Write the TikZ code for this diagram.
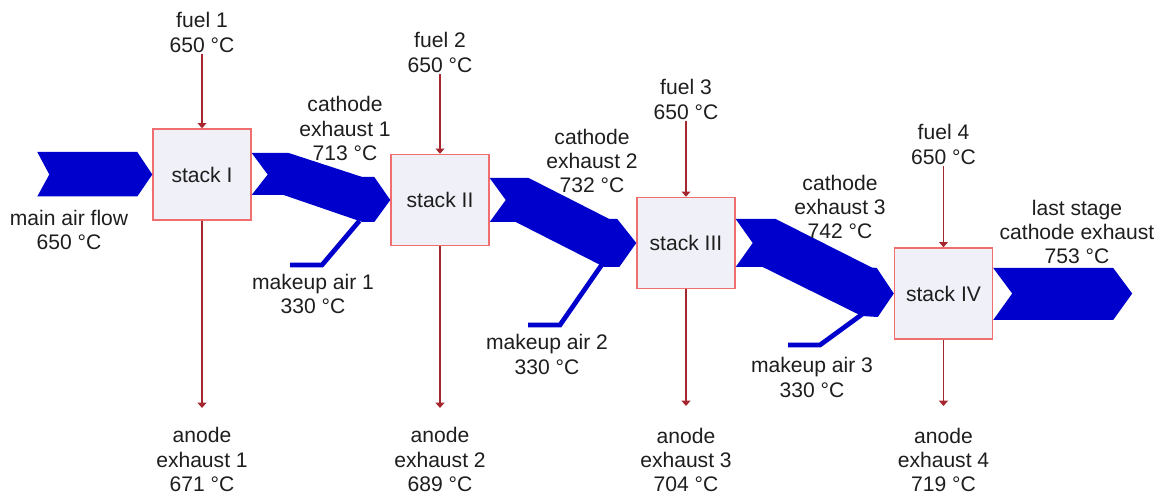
\documentclass[tikz,border=0pt]{standalone}
\usepackage{fontspec}
\setmainfont{Liberation Sans}
\usetikzlibrary{arrows.meta,calc}

\definecolor{flowblue}{RGB}{0,0,204}
\definecolor{fuelred}{RGB}{165,38,45}
\definecolor{stackedge}{RGB}{240,110,110}
\definecolor{stackfill}{RGB}{240,240,248}
\definecolor{labelgray}{RGB}{30,30,30}

\tikzset{
  stackbox/.style={draw=stackedge, fill=stackfill, line width=0.8pt,
    minimum width=1.96cm, minimum height=1.82cm, inner sep=0pt, text=labelgray},
  flowlabel/.style={align=center, inner sep=1pt, text=labelgray},
  airflow/.style={fill=flowblue},
  makeup/.style={draw=flowblue, line width=2.7pt, line join=miter},
  fuelline/.style={draw=fuelred, line width=1.1pt,
    -{Triangle[width=5pt,length=3pt]}},
}

\begin{document}
\begin{tikzpicture}[font=\fontsize{12}{13.8}\selectfont]
  \useasboundingbox (0,0) rectangle (23.26,9.9);

  % --- Stacks ---
  \node[stackbox] (s1) at (4.04, 6.41) {stack I};
  \node[stackbox] (s2) at (8.80, 5.90) {stack II};
  \node[stackbox] (s3) at (13.72, 5.04) {stack III};
  \node[stackbox] (s4) at (18.87, 4.03) {stack IV};

  % --- Main air flow into stack I ---
  \fill[airflow] ($(s1.west)+(-2.30,0.45)$) -- ($(s1.west)+(-0.30,0.45)$)
    -- (s1.west) -- ($(s1.west)+(-0.30,-0.44)$) -- ($(s1.west)+(-2.30,-0.44)$)
    -- ($(s1.west)+(-2.06,0)$) -- cycle;

  % --- Cathode exhaust 1: stack I to stack II ---
  \fill[airflow] ($(s1.east)+(0,0.43)$) -- ($(s1.east)+(0.74,0.43)$)
    -- ($(s2.west)+(-0.56,0.46)$) -- ($(s2.west)+(-0.32,0.46)$) -- (s2.west)
    -- ($(s2.west)+(-0.32,-0.44)$) -- ($(s2.west)+(-0.56,-0.44)$)
    -- ($(s1.east)+(0.64,-0.41)$) -- ($(s1.east)+(0,-0.41)$)
    -- ($(s1.east)+(0.32,0)$) -- cycle;

  % --- Cathode exhaust 2: stack II to stack III ---
  \fill[airflow] ($(s2.east)+(0,0.44)$) -- ($(s2.east)+(0.78,0.44)$)
    -- ($(s3.west)+(-0.54,0.48)$) -- ($(s3.west)+(-0.38,0.48)$) -- (s3.west)
    -- ($(s3.west)+(-0.34,-0.48)$) -- ($(s3.west)+(-0.64,-0.48)$)
    -- ($(s2.east)+(0.52,-0.44)$) -- ($(s2.east)+(0,-0.44)$)
    -- ($(s2.east)+(0.32,0)$) -- cycle;

  % --- Cathode exhaust 3: stack III to stack IV ---
  \fill[airflow] ($(s3.east)+(0,0.48)$) -- ($(s3.east)+(0.80,0.48)$)
    -- ($(s4.west)+(-0.44,0.52)$) -- ($(s4.west)+(-0.34,0.51)$) -- (s4.west)
    -- ($(s4.west)+(-0.32,-0.47)$) -- ($(s4.west)+(-0.64,-0.45)$)
    -- ($(s3.east)+(0.54,-0.48)$) -- ($(s3.east)+(0,-0.48)$)
    -- ($(s3.east)+(0.34,0)$) -- cycle;

  % --- Last stage exhaust ---
  \fill[airflow] ($(s4.east)+(0,0.51)$) -- ($(s4.east)+(2.40,0.51)$)
    -- ($(s4.east)+(2.78,0)$) -- ($(s4.east)+(2.40,-0.53)$)
    -- ($(s4.east)+(0,-0.53)$) -- ($(s4.east)+(0.38,0)$) -- cycle;

  % --- Makeup air feeds ---
  \coordinate (m1) at (5.80, 4.60);
  \coordinate (m2) at (10.56, 3.40);
  \coordinate (m3) at (15.76, 3.00);
  \draw[makeup] (m1) -- ++(0.64,0) -- ($(s2.west)+(-0.62,-0.42)$);
  \draw[makeup] (m2) -- ++(0.64,0) -- ($(s3.west)+(-0.68,-0.42)$);
  \draw[makeup] (m3) -- ++(0.64,0) -- ($(s4.west)+(-0.64,-0.42)$);

  % --- Fuel inlets ---
  \node[flowlabel] (f1) at (4.04, 9.25) {fuel 1\\650 °C};
  \node[flowlabel] (f2) at (8.80, 8.85) {fuel 2\\650 °C};
  \node[flowlabel] (f3) at (13.72, 7.91) {fuel 3\\650 °C};
  \node[flowlabel] (f4) at (18.87, 7.01) {fuel 4\\650 °C};
  \draw[fuelline] (f1.south) -- (s1.north);
  \draw[fuelline] (f2.south) -- (s2.north);
  \draw[fuelline] (f3.south) -- (s3.north);
  \draw[fuelline] (f4.south) -- (s4.north);

  % --- Anode exhausts ---
  \coordinate (e1) at (4.04, 1.74);
  \coordinate (e2) at (8.80, 1.74);
  \coordinate (e3) at (13.72, 1.78);
  \coordinate (e4) at (18.87, 1.78);
  \draw[fuelline] (s1.south) -- (e1);
  \draw[fuelline] (s2.south) -- (e2);
  \draw[fuelline] (s3.south) -- (e3);
  \draw[fuelline] (s4.south) -- (e4);
  \node[flowlabel] (a1) at (4.04, 0.71) {anode\\exhaust 1\\671 °C};
  \node[flowlabel] (a2) at (8.80, 0.71) {anode\\exhaust 2\\689 °C};
  \node[flowlabel] (a3) at (13.72, 0.70) {anode\\exhaust 3\\704 °C};
  \node[flowlabel] (a4) at (18.87, 0.70) {anode\\exhaust 4\\719 °C};

  % --- Air side labels ---
  \node[flowlabel] (main) at (1.38, 5.30) {main air flow\\650 °C};
  \node[flowlabel] (c1) at (6.90, 7.33) {cathode\\exhaust 1\\713 °C};
  \node[flowlabel] (c2) at (11.84, 6.68) {cathode\\exhaust 2\\732 °C};
  \node[flowlabel] (c3) at (16.80, 5.76) {cathode\\exhaust 3\\742 °C};
  \node[flowlabel] (c4) at (21.54, 5.26) {last stage\\cathode exhaust\\753 °C};
  \node[flowlabel] (k1) at (6.26, 4.02) {makeup air 1\\330 °C};
  \node[flowlabel] (k2) at (10.94, 2.81) {makeup air 2\\330 °C};
  \node[flowlabel] (k3) at (16.24, 2.35) {makeup air 3\\330 °C};
\end{tikzpicture}
\end{document}
